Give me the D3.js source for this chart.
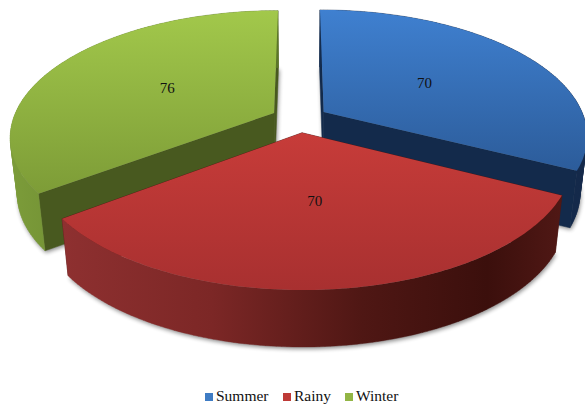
<!DOCTYPE html>
<html><head><meta charset="utf-8">
<style>html,body{margin:0;padding:0;background:#fff;overflow:hidden}svg{display:block}text{font-family:"Liberation Serif","Times New Roman",serif;fill:#111}</style>
<script src="https://cdn.jsdelivr.net/npm/d3@7"></script>
</head><body><div id="chart"></div>
<script>
const categories = ["Summer", "Rainy", "Winter"];
const seriesValues = [70, 70, 76];
const topColors = [["#3f80d0", "#2c5c9a"], ["#c73c39", "#a83030"], ["#a2c84b", "#7d9c37"]];
const innerWall = ["#132a4b", "#4a1512", "#48591f"];
const outerWall = [
  [[0, "#142c4e"], [1, "#14294a"]],
  [[0, "#8e3030"], [0.3, "#7c2726"], [0.6, "#4f1714"], [0.85, "#3b0f0c"], [1, "#501815"]],
  [[0, "#7c9c3a"], [0.5, "#65822c"], [1, "#5c7628"]]
];
const legendSwatch = ["#3f7cc4", "#be3a37", "#92b545"];

const W = 585, H = 404;
const x0 = 299.5, y0 = 119, Rx = 261, Ry = 123, persp = 0.182, explode = 0.11, wallH = 57, wallShrink = 0.025;

const svg = d3.select("#chart").append("svg").attr("width", W).attr("height", H);
const defs = svg.append("defs");
const blur = defs.append("filter").attr("id", "blur").attr("x", "-10%").attr("y", "-10%").attr("width", "120%").attr("height", "120%");
blur.append("feGaussianBlur").attr("stdDeviation", 2.2);

const pie = d3.pie().sort(null).value(d => d);
const slices = pie(seriesValues);

const px = d3.scaleLinear().domain([0, 1]).range([x0, x0 + Rx]);
const py = d3.scaleLinear().domain([0, 1]).range([y0, y0 + Ry]);
function project(X, Y, z) {
  const s = 1 / (1 - persp * Y);
  const sx = px(X * s), sy = py(Y * s);
  return [x0 + (sx - x0) * (1 - wallShrink * z), sy + wallH * z];
}
const line = d3.line();
function rim(s, z) {
  const mid = (s.startAngle + s.endAngle) / 2;
  const ox = explode * Math.sin(mid), oy = -explode * Math.cos(mid);
  return d3.range(0, 121).map(i => {
    const a = s.startAngle + (s.endAngle - s.startAngle) * i / 120;
    return project(ox + Math.sin(a), oy - Math.cos(a), z);
  });
}
function apex(s, z) {
  const mid = (s.startAngle + s.endAngle) / 2;
  return project(explode * Math.sin(mid), -explode * Math.cos(mid), z);
}
function stripPath(top, bottom) {
  // union of consistently wound quads so the swept wall has no holes at the silhouette
  return d3.range(top.length - 1).map(k => {
    const q = [top[k], top[k + 1], bottom[k + 1], bottom[k]];
    if (d3.polygonArea(q) < 0) q.reverse();
    return line(q) + "Z";
  }).join("");
}

const order = [0, 2, 1];
order.forEach(i => {
  const s = slices[i], g = svg.append("g");
  const idTop = "top" + i, idWall = "wall" + i;
  const top = rim(s, 0), bottom = rim(s, 1);
  const ext = d3.extent(top, d => d[0]), extY = d3.extent(top.concat([apex(s, 0)]), d => d[1]);
  const gt = defs.append("linearGradient").attr("id", idTop).attr("gradientUnits", "userSpaceOnUse")
    .attr("x1", 0).attr("x2", 0).attr("y1", extY[0]).attr("y2", extY[1]);
  gt.append("stop").attr("offset", 0).attr("stop-color", topColors[i][0]);
  gt.append("stop").attr("offset", 1).attr("stop-color", topColors[i][1]);
  const gw = defs.append("linearGradient").attr("id", idWall).attr("gradientUnits", "userSpaceOnUse")
    .attr("x1", ext[0]).attr("x2", ext[1]).attr("y1", 0).attr("y2", 0);
  outerWall[i].forEach(d => gw.append("stop").attr("offset", d[0]).attr("stop-color", d[1]));

  // soft shadow of the extruded base
  g.append("path").attr("d", line([apex(s, 1), ...bottom]) + "Z")
    .attr("fill", "#000").attr("opacity", 0.45).attr("filter", "url(#blur)")
    .attr("transform", "translate(1,2)");
  // side walls
  [0, 120].forEach(e => {
    g.append("path").attr("d", line([apex(s, 0), top[e], bottom[e], apex(s, 1)]) + "Z")
      .attr("fill", innerWall[i]).attr("stroke", innerWall[i]).attr("stroke-width", 0.5);
  });
  g.append("path").attr("d", stripPath(top, bottom)).attr("fill", `url(#${idWall})`)
    .attr("stroke", `url(#${idWall})`).attr("stroke-width", 0.4);
  // top face
  g.append("path").attr("d", line([apex(s, 0), ...top]) + "Z").attr("fill", `url(#${idTop})`);
});

// value labels
const labelAt = slices.map(s => {
  const mid = (s.startAngle + s.endAngle) / 2, r = 0.595;
  return project(r * Math.sin(mid), -r * Math.cos(mid), 0);
});
svg.selectAll(".val").data(seriesValues).join("text").attr("class", "val")
  .attr("x", (d, i) => labelAt[i][0]).attr("y", (d, i) => labelAt[i][1]).attr("dy", "0.35em")
  .attr("text-anchor", "middle").attr("font-size", 15).text(d => d);

// legend
const legendX = d3.scaleOrdinal().domain(categories).range([205, 283, 345]);
const lg = svg.selectAll(".lg").data(categories).join("g").attr("class", "lg")
  .attr("transform", d => `translate(${legendX(d)},0)`);
lg.append("rect").attr("y", 393).attr("width", 8).attr("height", 8).attr("fill", (d, i) => legendSwatch[i]);
lg.append("text").attr("x", 11).attr("y", 401).attr("font-size", 15.5).text(d => d);
</script></body></html>
